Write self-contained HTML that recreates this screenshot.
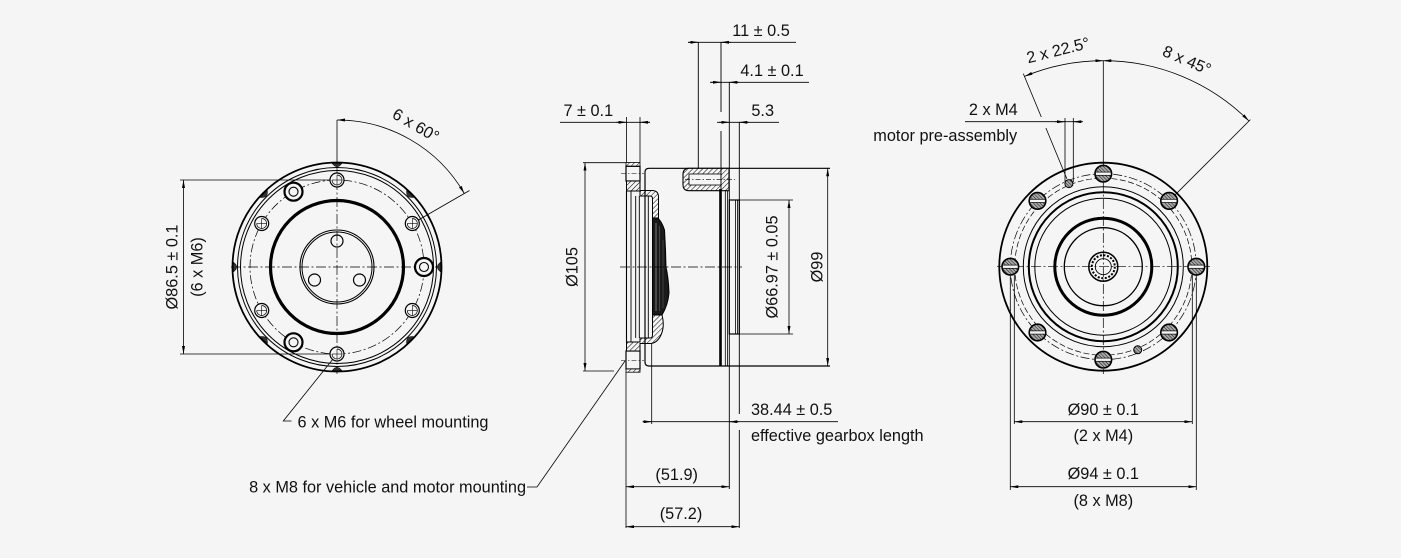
<!DOCTYPE html>
<html><head><meta charset="utf-8"><style>
html,body{margin:0;padding:0;background:#f5f5f5;}
svg{display:block;}
text{font-family:"Liberation Sans",Arial,sans-serif;font-size:16.3px;fill:#111;}
</style></head><body>
<svg width="1401" height="558" viewBox="0 0 1401 558" xmlns="http://www.w3.org/2000/svg">
<defs>
<marker id="a" viewBox="0 0 8 3" refX="8" refY="1.5" markerWidth="8" markerHeight="3" markerUnits="userSpaceOnUse" orient="auto-start-reverse"><path d="M0,0 L8,1.5 L0,3z" fill="#000"/></marker>
<pattern id="h" width="3.5" height="3.5" patternUnits="userSpaceOnUse" patternTransform="rotate(45)"><rect width="3.5" height="3.5" fill="#f5f5f5"/><line x1="0" y1="0" x2="0" y2="3.5" stroke="#000" stroke-width="1"/></pattern>
<pattern id="h2" width="2.4" height="2.4" patternUnits="userSpaceOnUse" patternTransform="rotate(-45)"><rect width="2.4" height="2.4" fill="#aaa"/><line x1="0" y1="0" x2="0" y2="2.4" stroke="#000" stroke-width="0.9"/></pattern>
<g id="m6"><circle r="7" fill="#f5f5f5" stroke="#000" stroke-width="1.2"/><path d="M0,-5 A5,5 0 1 1 -5,0" fill="none" stroke="#000" stroke-width="0.7"/><line x1="-5" y1="0" x2="5" y2="0" stroke="#000" stroke-width="0.6"/><line x1="0" y1="-5" x2="0" y2="5" stroke="#000" stroke-width="0.6"/></g>
<g id="tk"><circle r="9" fill="#f5f5f5" stroke="#000" stroke-width="2.2"/><circle r="4.5" fill="none" stroke="#000" stroke-width="1.1"/></g>
<g id="m8"><circle r="8.3" fill="url(#h2)" stroke="#000" stroke-width="1.6"/><rect x="-7.8" y="-1.6" width="15.6" height="3.2" fill="#f5f5f5" stroke="#000" stroke-width="0.7"/></g>
<path id="nt" d="M332,163.5 Q337,170 342,163.5 Z" fill="#333" stroke="#000" stroke-width="0.5"/>
</defs>

<!-- ================= LEFT VIEW ================= -->
<g fill="none" stroke="#000">
<circle cx="337" cy="267" r="104.5" stroke-width="1.8"/>
<circle cx="337" cy="267" r="99.5" stroke-width="1"/>
<circle cx="337" cy="267" r="96.5" stroke-width="1"/>
<circle cx="337" cy="267" r="87" stroke-width="0.7" stroke-dasharray="9 2.5 2 2.5"/>
<circle cx="337" cy="267" r="66.5" stroke-width="3.2"/>
<circle cx="337" cy="267" r="37" stroke-width="1.1"/>
<circle cx="337" cy="267" r="35" stroke-width="1"/>
<circle cx="337" cy="241" r="6" stroke-width="1.2"/>
<circle cx="314.5" cy="280" r="6" stroke-width="1.2"/>
<circle cx="359.5" cy="280" r="6" stroke-width="1.2"/>
<!-- centerlines -->
<line x1="231" y1="267" x2="442" y2="267" stroke-width="0.7" stroke-dasharray="10 2.5 2 2.5"/>
<line x1="337" y1="120" x2="337" y2="163" stroke-width="0.8"/>
<line x1="337" y1="163" x2="337" y2="374" stroke-width="0.7" stroke-dasharray="10 2.5 2 2.5"/>
<!-- Ø86.5 dim -->
<line x1="180" y1="180" x2="331" y2="180" stroke-width="0.8"/>
<line x1="180" y1="354" x2="331" y2="354" stroke-width="0.8"/>
<line x1="183.5" y1="180" x2="183.5" y2="354" stroke-width="0.8" marker-start="url(#a)" marker-end="url(#a)"/>
<!-- angle 6x60 -->
<path d="M337,120 A147,147 0 0 1 464.3,193.5" stroke-width="0.8" marker-start="url(#a)" marker-end="url(#a)"/>
<line x1="410.6" y1="224.5" x2="469.5" y2="190.5" stroke-width="0.8"/>
<!-- leader -->
<polyline points="337,354 283.3,421 291.5,421" stroke-width="0.8"/>
</g>
<use href="#nt"/>
<use href="#nt" transform="rotate(45 337 267)"/>
<use href="#nt" transform="rotate(90 337 267)"/>
<use href="#nt" transform="rotate(135 337 267)"/>
<use href="#nt" transform="rotate(180 337 267)"/>
<use href="#nt" transform="rotate(225 337 267)"/>
<use href="#nt" transform="rotate(270 337 267)"/>
<use href="#nt" transform="rotate(315 337 267)"/>
<use href="#m6" x="337" y="180"/>
<use href="#m6" x="412.3" y="223.5"/>
<use href="#m6" x="412.3" y="310.5"/>
<use href="#m6" x="337" y="354"/>
<use href="#m6" x="261.7" y="310.5"/>
<use href="#m6" x="261.7" y="223.5"/>
<use href="#tk" x="293.5" y="191.7"/>
<use href="#tk" x="424" y="267"/>
<use href="#tk" x="293.5" y="342.3"/>
<text transform="translate(416,125) rotate(30)" y="5.7" text-anchor="middle">6 x 60°</text>
<text transform="translate(172,267) rotate(-90)" y="5.7" text-anchor="middle">Ø86.5 ± 0.1</text>
<text transform="translate(197,267) rotate(-90)" y="5.7" text-anchor="middle">(6 x M6)</text>
<text x="297.5" y="427.5">6 x M6 for wheel mounting</text>
<text x="526" y="492.5" text-anchor="end">8 x M8 for vehicle and motor mounting</text>

<!-- ================= MIDDLE VIEW ================= -->
<g fill="none" stroke="#000">
<!-- flange hole boxes -->
<rect x="626" y="162.5" width="14" height="3.8" fill="url(#h)" stroke-width="0.8"/>
<rect x="626" y="166.3" width="14" height="14.7" stroke-width="1.2"/>
<line x1="621" y1="173.5" x2="644" y2="173.5" stroke-width="0.6" stroke-dasharray="5 2 1.5 2"/>
<rect x="626" y="351" width="14" height="18" stroke-width="1.2"/>
<rect x="626" y="369" width="14" height="3.2" fill="url(#h)" stroke-width="0.8"/>
<line x1="621" y1="360.5" x2="644" y2="360.5" stroke-width="0.6" stroke-dasharray="5 2 1.5 2"/>
<!-- S sections -->
<path d="M626.5,181 L640,181 L640,190.5 L652,190.5 Q658.5,190.5 658.5,197 L658.5,218 L652.5,218 L652.5,198.5 Q652.5,196 650,196 L640,196 L640,191 L626.5,191 Z" fill="url(#h)" stroke-width="1"/>
<path d="M652.5,315 L662,315 Q665,326 661,335 Q657,343.5 650,343.5 L640,343.5 L640,351 L626.5,351 L626.5,342 L640,342 L640,338 L650,338 Q652.5,338 652.5,335 Z" fill="url(#h)" stroke-width="1"/>
<!-- gear -->
<path d="M652.5,218 L657.7,218 Q662,222 664.5,230 L665.5,250 L666,267 Q668.5,278 669,293 Q668,305 662,315 L652.5,315 Z" fill="#1a1a1a" stroke-width="1"/>
<line x1="656" y1="223" x2="656" y2="311" stroke="#bbb" stroke-width="0.6"/>
<line x1="659.5" y1="226" x2="659.5" y2="311" stroke="#777" stroke-width="0.5"/>
<line x1="663" y1="240" x2="663" y2="308" stroke="#666" stroke-width="0.5"/>
<!-- flange vertical lines -->
<line x1="626.5" y1="117" x2="626.5" y2="162.5" stroke-width="0.8"/>
<line x1="640" y1="117" x2="640" y2="162.5" stroke-width="0.8"/>
<line x1="626.5" y1="191" x2="626.5" y2="342" stroke-width="1.1"/>
<line x1="631" y1="191" x2="631" y2="342" stroke-width="0.9"/>
<line x1="635.7" y1="196" x2="635.7" y2="338" stroke-width="0.9"/>
<line x1="639.3" y1="196" x2="639.3" y2="338" stroke-width="0.9"/>
<line x1="648.3" y1="196" x2="648.3" y2="338" stroke-width="0.9"/>
<line x1="626" y1="372" x2="626" y2="528" stroke-width="0.8"/>
<!-- body -->
<path d="M830,168.3 L649,168.3 Q645,168.3 645,172.3 L645,362 Q645,366 649,366 L830,366" stroke-width="1.2"/>
<!-- bolt piece -->
<path d="M729,168.3 L689,168.3 Q683,168.3 683,174.5 L683,184.5 Q683,190.7 689,190.7 L729,190.7 Z" fill="url(#h)" stroke-width="1.1"/>
<rect x="689" y="174" width="32" height="11" fill="#f5f5f5" stroke-width="0.8"/>
<line x1="685" y1="179.7" x2="735" y2="179.7" stroke-width="0.6" stroke-dasharray="5 2 1.5 2"/>
<!-- right face lines -->
<line x1="720.5" y1="189" x2="720.5" y2="366" stroke-width="2.6"/>
<line x1="725.3" y1="190.7" x2="725.3" y2="366" stroke-width="0.8"/>
<line x1="727.5" y1="190.7" x2="727.5" y2="366" stroke-width="0.8"/>
<line x1="729.3" y1="82" x2="729.3" y2="489" stroke-width="0.9"/>
<line x1="739.3" y1="122" x2="739.3" y2="414" stroke-width="0.9"/>
<line x1="739.3" y1="430" x2="739.3" y2="528" stroke-width="0.9"/>
<line x1="721" y1="42" x2="721" y2="112" stroke-width="0.9"/>
<line x1="721" y1="131" x2="721" y2="189" stroke-width="0.9"/>
<line x1="698.3" y1="42" x2="698.3" y2="168.3" stroke-width="0.9"/>
<line x1="651.7" y1="343" x2="651.7" y2="424" stroke-width="0.8"/>
<!-- shaft step -->
<rect x="729.3" y="200" width="10" height="134" stroke-width="1.2"/>
<line x1="735.5" y1="200" x2="735.5" y2="334" stroke-width="0.8"/>
<line x1="737.5" y1="200" x2="737.5" y2="334" stroke-width="0.8"/>
<!-- centerline -->
<line x1="620" y1="267" x2="742" y2="267" stroke-width="0.7" stroke-dasharray="10 2.5 2 2.5"/>
<!-- Ø66.97 -->
<line x1="739.3" y1="200" x2="793" y2="200" stroke-width="0.8"/>
<line x1="739.3" y1="334" x2="793" y2="334" stroke-width="0.8"/>
<line x1="789" y1="200" x2="789" y2="334" stroke-width="0.8" marker-start="url(#a)" marker-end="url(#a)"/>
<!-- Ø99 -->
<line x1="827.7" y1="168.3" x2="827.7" y2="366" stroke-width="0.8" marker-start="url(#a)" marker-end="url(#a)"/>
<!-- Ø105 -->
<line x1="583" y1="162.7" x2="626" y2="162.7" stroke-width="0.8"/>
<line x1="583" y1="371" x2="614" y2="371" stroke-width="0.8"/>
<line x1="585" y1="162.7" x2="585" y2="371" stroke-width="0.8" marker-start="url(#a)" marker-end="url(#a)"/>
<!-- top dims -->
<line x1="688" y1="42.3" x2="796" y2="42.3" stroke-width="0.8"/>
<line x1="688" y1="42.3" x2="698.3" y2="42.3" stroke-width="0.8" marker-end="url(#a)"/>
<line x1="731" y1="42.3" x2="721" y2="42.3" stroke-width="0.8" marker-end="url(#a)"/>
<line x1="710" y1="82.3" x2="809" y2="82.3" stroke-width="0.8"/>
<line x1="711" y1="82.3" x2="721" y2="82.3" stroke-width="0.8" marker-end="url(#a)"/>
<line x1="739" y1="82.3" x2="729.3" y2="82.3" stroke-width="0.8" marker-end="url(#a)"/>
<line x1="717" y1="122.3" x2="779" y2="122.3" stroke-width="0.8"/>
<line x1="719" y1="122.3" x2="729.3" y2="122.3" stroke-width="0.8" marker-end="url(#a)"/>
<line x1="749" y1="122.3" x2="739.3" y2="122.3" stroke-width="0.8" marker-end="url(#a)"/>
<line x1="560" y1="122.3" x2="650" y2="122.3" stroke-width="0.8"/>
<line x1="616" y1="122.3" x2="626.5" y2="122.3" stroke-width="0.8" marker-end="url(#a)"/>
<line x1="650" y1="122.3" x2="640" y2="122.3" stroke-width="0.8" marker-end="url(#a)"/>
<!-- bottom dims -->
<line x1="642.7" y1="421.7" x2="838" y2="421.7" stroke-width="0.8"/>
<line x1="642.7" y1="421.7" x2="651.7" y2="421.7" stroke-width="0.8" marker-end="url(#a)"/>
<line x1="739" y1="421.7" x2="729.3" y2="421.7" stroke-width="0.8" marker-end="url(#a)"/>
<line x1="626" y1="486.7" x2="729.3" y2="486.7" stroke-width="0.8" marker-start="url(#a)" marker-end="url(#a)"/>
<line x1="626" y1="526.7" x2="739.3" y2="526.7" stroke-width="0.8" marker-start="url(#a)" marker-end="url(#a)"/>
<!-- M8 leader -->
<polyline points="527,487 537,487 625,361" stroke-width="0.8"/>
</g>
<text x="761" y="36" text-anchor="middle">11 ± 0.5</text>
<text x="772" y="76" text-anchor="middle">4.1 ± 0.1</text>
<text x="762.7" y="116" text-anchor="middle">5.3</text>
<text x="588.3" y="116" text-anchor="middle">7 ± 0.1</text>
<text transform="translate(571.7,267) rotate(-90)" y="5.7" text-anchor="middle">Ø105</text>
<text transform="translate(772,267) rotate(-90)" y="5.7" text-anchor="middle">Ø66.97 ± 0.05</text>
<text transform="translate(816.7,267) rotate(-90)" y="5.7" text-anchor="middle">Ø99</text>
<text x="751" y="415">38.44 ± 0.5</text>
<text x="751" y="441">effective gearbox length</text>
<text x="676.7" y="480" text-anchor="middle">(51.9)</text>
<text x="681" y="519" text-anchor="middle">(57.2)</text>

<!-- ================= RIGHT VIEW ================= -->
<g fill="none" stroke="#000">
<circle cx="1103.3" cy="266.7" r="104" stroke-width="1.8"/>
<circle cx="1103.3" cy="266.7" r="93" stroke-width="0.7" stroke-dasharray="9 2.5 2 2.5"/>
<circle cx="1103.3" cy="266.7" r="88.5" stroke-width="0.7" stroke-dasharray="6 2.5"/>
<circle cx="1103.3" cy="266.7" r="80" stroke-width="1"/>
<circle cx="1103.3" cy="266.7" r="74.5" stroke-width="2"/>
<circle cx="1103.3" cy="266.7" r="68.5" stroke-width="1"/>
<circle cx="1103.3" cy="266.7" r="48.5" stroke-width="3"/>
<circle cx="1103.3" cy="266.7" r="39" stroke-width="1.3"/>
<circle cx="1103.3" cy="266.7" r="14.5" stroke-width="1.5"/>
<circle cx="1103.3" cy="266.7" r="11.5" stroke-width="2" stroke-dasharray="2 1.6"/>
<circle cx="1103.3" cy="266.7" r="8" stroke-width="0.9"/>
<!-- centerlines -->
<line x1="997" y1="266.7" x2="1210" y2="266.7" stroke-width="0.7" stroke-dasharray="10 2.5 2 2.5"/>
<line x1="1103.3" y1="60.7" x2="1103.3" y2="165" stroke-width="0.8"/>
<line x1="1103.3" y1="165" x2="1103.3" y2="374" stroke-width="0.7" stroke-dasharray="10 2.5 2 2.5"/>
<!-- angle arcs -->
<path d="M1103.3,60.7 A206,206 0 0 0 1024.5,76.4" stroke-width="0.8" marker-start="url(#a)" marker-end="url(#a)"/>
<path d="M1103.3,60.7 A206,206 0 0 1 1249,121" stroke-width="0.8" marker-start="url(#a)" marker-end="url(#a)"/>
<line x1="1066.9" y1="178.9" x2="1045.9" y2="128" stroke-width="0.8"/>
<line x1="1041.3" y1="117" x2="1023.3" y2="73.6" stroke-width="0.8"/>
<line x1="1174.7" y1="195.3" x2="1250.4" y2="119.6" stroke-width="0.8"/>
<!-- 2 x M4 -->
<line x1="965" y1="121.7" x2="1081.7" y2="121.7" stroke-width="0.8"/>
<line x1="1055" y1="121.7" x2="1065" y2="121.7" stroke-width="0.8" marker-end="url(#a)"/>
<line x1="1083" y1="121.7" x2="1073.3" y2="121.7" stroke-width="0.8" marker-end="url(#a)"/>
<line x1="1065" y1="118" x2="1065" y2="182" stroke-width="0.8"/>
<line x1="1073.3" y1="118" x2="1073.3" y2="182" stroke-width="0.8"/>
<!-- bottom dims -->
<line x1="1014.3" y1="275" x2="1014.3" y2="424" stroke-width="0.8"/>
<line x1="1192.3" y1="275" x2="1192.3" y2="424" stroke-width="0.8"/>
<line x1="1010.3" y1="275" x2="1010.3" y2="490" stroke-width="0.8"/>
<line x1="1196.3" y1="275" x2="1196.3" y2="490" stroke-width="0.8"/>
<line x1="1014.3" y1="421.7" x2="1192.3" y2="421.7" stroke-width="0.8" marker-start="url(#a)" marker-end="url(#a)"/>
<line x1="1010.3" y1="486.7" x2="1196.3" y2="486.7" stroke-width="0.8" marker-start="url(#a)" marker-end="url(#a)"/>
</g>
<use href="#m8" x="1103.3" y="173.7"/>
<use href="#m8" x="1169.1" y="200.9"/>
<use href="#m8" x="1196.3" y="266.7"/>
<use href="#m8" x="1169.1" y="332.5"/>
<use href="#m8" x="1103.3" y="359.7"/>
<use href="#m8" x="1037.5" y="332.5"/>
<use href="#m8" x="1010.3" y="266.7"/>
<use href="#m8" x="1037.5" y="200.9"/>
<circle cx="1068.9" cy="183.6" r="4" fill="url(#h2)" stroke="#000" stroke-width="1"/>
<circle cx="1137.7" cy="349.8" r="4" fill="url(#h2)" stroke="#000" stroke-width="1"/>
<text transform="translate(1058,50) rotate(-14)" y="5.7" text-anchor="middle">2 x 22.5°</text>
<text transform="translate(1187,60) rotate(23)" y="5.7" text-anchor="middle">8 x 45°</text>
<text x="993.3" y="115" text-anchor="middle">2 x M4</text>
<text x="873.3" y="141">motor pre-assembly</text>
<text x="1103.3" y="415" text-anchor="middle">Ø90 ± 0.1</text>
<text x="1103.3" y="441" text-anchor="middle">(2 x M4)</text>
<text x="1103.3" y="479" text-anchor="middle">Ø94 ± 0.1</text>
<text x="1103.3" y="506" text-anchor="middle">(8 x M8)</text>
</svg>
</body></html>
